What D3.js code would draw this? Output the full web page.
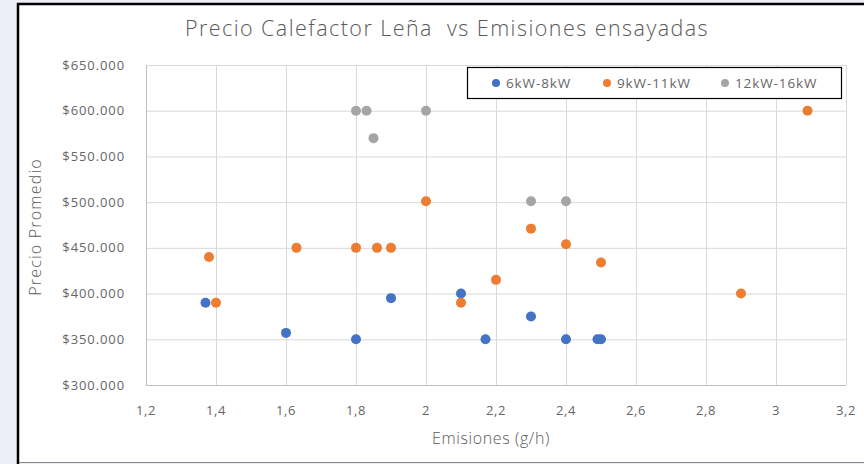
<!doctype html>
<html lang="es">
<head>
<meta charset="UTF-8"/>
<title>Precio Calefactor Leña vs Emisiones</title>
<script src="https://cdnjs.cloudflare.com/ajax/libs/d3/7.8.5/d3.min.js"></script>
<style>
  body { margin: 0; background: #eeeef8; }
  svg text { font-family: "Open Sans", sans-serif; fill: #595959; font-weight: 300; }
  svg text.tick { font-weight: 400; fill: #666; }
</style>
</head>
<body>
<script>
// series: [emisiones, precio en miles]
const seriesNames = ["6kW-8kW", "9kW-11kW", "12kW-16kW"];
const seriesColors = ["#4472c4", "#ed7d31", "#a5a5a5"];

const s6_8 = [[1.37, 390], [1.6, 357], [1.8, 350], [1.9, 395], [2.1, 400],
  [2.17, 350], [2.3, 375], [2.4, 350], [2.49, 350], [2.5, 350]];
const s9_11 = [[1.38, 440], [1.4, 390], [1.63, 450], [1.8, 450], [1.86, 450],
  [1.9, 450], [2.0, 501], [2.1, 390], [2.2, 415], [2.3, 471], [2.4, 454],
  [2.5, 434], [2.9, 400], [3.09, 600]];
const s12_16 = [[1.8, 600], [1.83, 600], [1.85, 570], [2.0, 600], [2.3, 501], [2.4, 501]];

const xTicks = [1.2, 1.4, 1.6, 1.8, 2, 2.2, 2.4, 2.6, 2.8, 3, 3.2];
const yTicks = [300, 350, 400, 450, 500, 550, 600, 650];

const allSeries = [s6_8, s9_11, s12_16];

const W = 864, H = 464;
const svg = d3.select("body").append("svg").attr("width", W).attr("height", H);

// chart frame
svg.append("rect").attr("x", 18).attr("y", 4).attr("width", W + 10).attr("height", H - 6)
  .attr("fill", "#fff").attr("stroke", "none");
svg.append("line").attr("x1", 18).attr("x2", 18).attr("y1", 3).attr("y2", 464)
  .attr("stroke", "#000").attr("stroke-width", 2.5);
svg.append("line").attr("x1", 17).attr("x2", W).attr("y1", 4).attr("y2", 4)
  .attr("stroke", "#000").attr("stroke-width", 2.5);
svg.append("line").attr("x1", 19).attr("x2", W).attr("y1", 462.5).attr("y2", 462.5)
  .attr("stroke", "#888").attr("stroke-width", 1);

const x = d3.scaleLinear().domain([1.2, 3.2]).range([146, 846]);
const y = d3.scaleLinear().domain([300, 650]).range([385, 65]);

// gridlines
const g = svg.append("g");
g.selectAll(".vg").data(xTicks).enter().append("line")
  .attr("x1", d => x(d) + 0.5).attr("x2", d => x(d) + 0.5)
  .attr("y1", y(650)).attr("y2", y(300))
  .attr("stroke", "#d9d9d9").attr("stroke-width", 1);
g.selectAll(".hg").data(yTicks).enter().append("line")
  .attr("x1", x(1.2)).attr("x2", x(3.2))
  .attr("y1", d => y(d) + 0.5).attr("y2", d => y(d) + 0.5)
  .attr("stroke", "#d9d9d9").attr("stroke-width", 1);
// axis lines
g.append("line").attr("x1", x(1.2) + 0.5).attr("x2", x(1.2) + 0.5)
  .attr("y1", y(650)).attr("y2", y(300)).attr("stroke", "#bfbfbf");
g.append("line").attr("x1", x(1.2)).attr("x2", x(3.2))
  .attr("y1", y(300) + 0.5).attr("y2", y(300) + 0.5).attr("stroke", "#bfbfbf");

// tick labels
const fmtY = d => "$" + d + ".000";
svg.selectAll(".yl").data(yTicks).enter().append("text").attr("class", "tick")
  .attr("x", 125).attr("y", d => y(d) + 4.5)
  .attr("text-anchor", "end").attr("font-size", 13).attr("letter-spacing", 0.9)
  .text(fmtY);
svg.selectAll(".xl").data(xTicks).enter().append("text").attr("class", "tick")
  .attr("x", d => x(d)).attr("y", 415)
  .attr("text-anchor", "middle").attr("font-size", 13).attr("letter-spacing", 0.6)
  .text(d => String(d).replace(".", ","));

// titles
svg.append("text").attr("x", 447).attr("y", 36).attr("text-anchor", "middle")
  .attr("font-size", 21.5).attr("letter-spacing", 1.45)
  .attr("xml:space", "preserve")
  .text("Precio Calefactor Leña  vs Emisiones ensayadas");
svg.append("text").attr("x", 491).attr("y", 444).attr("text-anchor", "middle")
  .attr("font-size", 16).attr("letter-spacing", 0.6).text("Emisiones (g/h)");
svg.append("text").attr("transform", "translate(41,227) rotate(-90)")
  .attr("text-anchor", "middle").attr("font-size", 16).attr("letter-spacing", 1.2)
  .text("Precio Promedio");

// points
allSeries.forEach((s, i) => {
  svg.append("g").selectAll("circle").data(s).enter().append("circle")
    .attr("cx", d => x(d[0])).attr("cy", d => y(d[1]))
    .attr("r", 5).attr("fill", seriesColors[i]);
});

// legend
const lg = svg.append("g");
lg.append("rect").attr("x", 467.5).attr("y", 67.5).attr("width", 374).attr("height", 31)
  .attr("fill", "#fff").attr("stroke", "#000").attr("stroke-width", 1.2);
const legX = [496, 607, 725];
seriesNames.forEach((n, i) => {
  lg.append("circle").attr("cx", legX[i]).attr("cy", 83).attr("r", 4).attr("fill", seriesColors[i]);
  lg.append("text").attr("class", "tick").attr("x", legX[i] + 10).attr("y", 88)
    .attr("font-size", 13.5).attr("letter-spacing", 0.9).text(n);
});
</script>
</body>
</html>
